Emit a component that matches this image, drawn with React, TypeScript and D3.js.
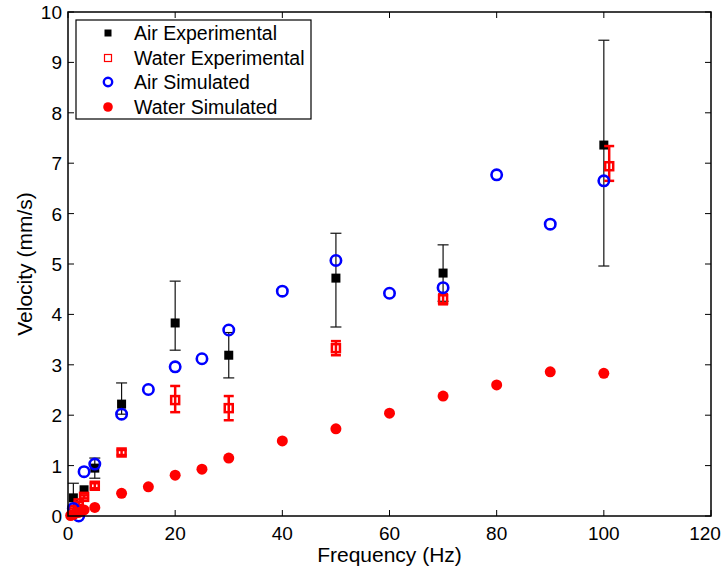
import * as d3 from "d3";

const xTicks = [0, 20, 40, 60, 80, 100, 120];
const yTicks = [0, 1, 2, 3, 4, 5, 6, 7, 8, 9, 10];

const airExpF = [1, 3, 5, 10, 20, 30, 50, 70, 100];
const airExpV = [0.36, 0.52, 0.95, 2.22, 3.83, 3.19, 4.72, 4.82, 7.36];
const airExpUp = [0.29, 0.0, 0.2, 0.42, 0.83, 0.45, 0.89, 0.56, 2.08];
const airExpDn = [0.29, 0.0, 0.2, 0.2, 0.54, 0.45, 0.97, 0.56, 2.4];

const waterExpF = [1, 2, 3, 5, 10, 20, 30, 50, 70, 101];
const waterExpV = [0.12, 0.25, 0.38, 0.6, 1.26, 2.3, 2.14, 3.33, 4.3, 6.94];
const waterExpUp = [0.03, 0.03, 0.03, 0.05, 0.05, 0.28, 0.24, 0.14, 0.1, 0.4];
const waterExpDn = [0.03, 0.03, 0.03, 0.05, 0.05, 0.24, 0.24, 0.14, 0.1, 0.29];

const airSimF = [1, 2, 3, 5, 10, 15, 20, 25, 30, 40, 50, 60, 70, 80, 90, 100];
const airSimV = [0.15, 0.0, 0.88, 1.03, 2.02, 2.51, 2.96, 3.12, 3.69, 4.46, 5.07, 4.42, 4.53, 6.77, 5.79, 6.65];

const waterSimF = [0.5, 1, 2, 3, 5, 10, 15, 20, 25, 30, 40, 50, 60, 70, 80, 90, 100];
const waterSimV = [0.01, 0.03, 0.07, 0.12, 0.17, 0.45, 0.58, 0.81, 0.93, 1.15, 1.49, 1.73, 2.04, 2.38, 2.6, 2.86, 2.83];

const legendLabels = ["Air Experimental", "Water Experimental", "Air Simulated", "Water Simulated"];

export default function App() {
  const width = 723;
  const height = 569;
  const margin = { top: 12, right: 12, bottom: 53, left: 68 };
  const font = "'Liberation Sans', Arial, sans-serif";

  const x = d3.scaleLinear().domain([0, 120]).range([margin.left, width - margin.right]);
  const y = d3.scaleLinear().domain([0, 10]).range([height - margin.bottom, margin.top]);

  const [x0, x1] = x.range();
  const [y0, y1] = y.range();
  const tl = 6;

  const errBar = (f: number, v: number, up: number, dn: number, cap: number, color: string, sw: number, key: string) => {
    if (up === 0 && dn === 0) return null;
    const cx = x(f);
    return (
      <g key={key} stroke={color} strokeWidth={sw}>
        <line x1={cx} x2={cx} y1={y(v + up)} y2={y(v - dn)} />
        <line x1={cx - cap / 2} x2={cx + cap / 2} y1={y(v + up)} y2={y(v + up)} />
        <line x1={cx - cap / 2} x2={cx + cap / 2} y1={y(v - dn)} y2={y(v - dn)} />
      </g>
    );
  };

  const legY = [33, 58, 82, 107];
  const legX = 108;

  return (
    <svg width={width} height={height} style={{ position: "absolute", left: 0, top: 0, background: "#fff" }} fontFamily={font}>
      <rect x={0} y={0} width={width} height={height} fill="#fff" />

      {/* ticks on all sides */}
      <g stroke="#000" strokeWidth={1}>
        {xTicks.map((t) => (
          <g key={"xt" + t}>
            <line x1={x(t)} x2={x(t)} y1={y0} y2={y0 - tl} />
            <line x1={x(t)} x2={x(t)} y1={y1} y2={y1 + tl} />
          </g>
        ))}
        {yTicks.map((t) => (
          <g key={"yt" + t}>
            <line x1={x0} x2={x0 + tl} y1={y(t)} y2={y(t)} />
            <line x1={x1} x2={x1 - tl} y1={y(t)} y2={y(t)} />
          </g>
        ))}
      </g>

      {/* tick labels */}
      <g fontSize={19} fill="#000">
        {xTicks.map((t) => (
          <text key={"xl" + t} x={t === 120 ? x(t) - 6 : x(t)} y={y0 + 24} textAnchor="middle">
            {t}
          </text>
        ))}
        {yTicks.map((t) => (
          <text key={"yl" + t} x={x0 - 6} y={y(t) + 7} textAnchor="end">
            {t}
          </text>
        ))}
      </g>

      <text x={(x0 + x1) / 2} y={562} textAnchor="middle" fontSize={21}>
        Frequency (Hz)
      </text>
      <text transform={`translate(32,${(y0 + y1) / 2}) rotate(-90)`} textAnchor="middle" fontSize={21}>
        Velocity (mm/s)
      </text>

      {/* air experimental */}
      {airExpF.map((f, i) => errBar(f, airExpV[i], airExpUp[i], airExpDn[i], 11, "#111", 1.2, "ae" + i))}
      {airExpF.map((f, i) => (
        <rect key={"aes" + i} x={x(f) - 4.5} y={y(airExpV[i]) - 4.5} width={9} height={9} fill="#000" />
      ))}

      {/* water experimental */}
      {waterExpF.map((f, i) => errBar(f, waterExpV[i], waterExpUp[i], waterExpDn[i], 10, "#ff0000", 2.5, "we" + i))}
      {waterExpF.map((f, i) => (
        <rect key={"wes" + i} x={x(f) - 4} y={y(waterExpV[i]) - 4} width={8} height={8} fill="none" stroke="#ff0000" strokeWidth={2.5} />
      ))}

      {/* air simulated */}
      {airSimF.map((f, i) => (
        <circle key={"as" + i} cx={x(f)} cy={y(airSimV[i])} r={5.2} fill="none" stroke="#0000ff" strokeWidth={2.6} />
      ))}

      {/* water simulated */}
      {waterSimF.map((f, i) => (
        <circle key={"ws" + i} cx={x(f)} cy={y(waterSimV[i])} r={5.5} fill="#ff0000" />
      ))}

      {/* axes box */}
      <rect x={x0} y={y1} width={x1 - x0} height={y0 - y1} fill="none" stroke="#000" strokeWidth={1.5} />

      {/* legend */}
      <rect x={76} y={20} width={235} height={99} fill="#fff" stroke="#000" strokeWidth={1.2} />
      <rect x={legX - 3.5} y={legY[0] - 3.5} width={7} height={7} fill="#000" />
      <rect x={legX - 3.5} y={legY[1] - 3.5} width={7} height={7} fill="none" stroke="#ff0000" strokeWidth={1.2} />
      <circle cx={legX} cy={legY[2]} r={4.2} fill="none" stroke="#0000ff" strokeWidth={2.4} />
      <circle cx={legX} cy={legY[3]} r={4.8} fill="#ff0000" />
      <g fontSize={19.5} fill="#000">
        {legendLabels.map((l, i) => (
          <text key={"lg" + i} x={134} y={legY[i] + 7}>
            {l}
          </text>
        ))}
      </g>
    </svg>
  );
}
